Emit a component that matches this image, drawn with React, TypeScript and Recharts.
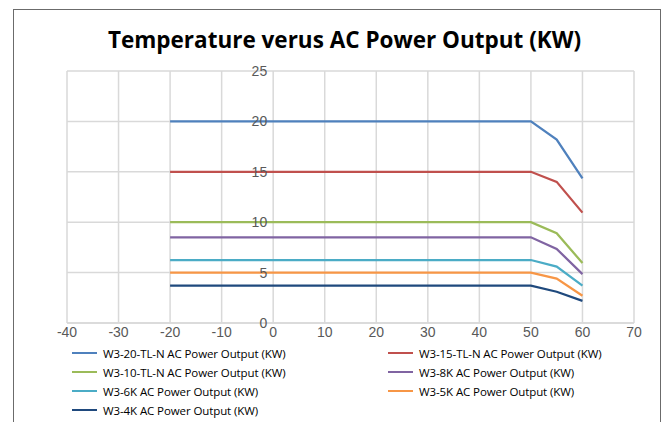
import React from 'react';
import { LineChart, Line, XAxis, YAxis, CartesianGrid, ReferenceDot } from 'recharts';

// temperature points (°C)
const temps = [-20, 50, 55, 60];

// AC power output (KW) per model at each temperature
const w20 = [20, 20, 18.2, 14.35];
const w15 = [15, 15, 14.0, 10.95];
const w10 = [10, 10, 8.9, 5.95];
const w8 = [8.5, 8.5, 7.35, 4.85];
const w6 = [6.25, 6.25, 5.6, 3.7];
const w5 = [5, 5, 4.4, 2.7];
const w4 = [3.7, 3.7, 3.1, 2.2];

const xTicks = [-40, -30, -20, -10, 0, 10, 20, 30, 40, 50, 60, 70];
const yTicks = [0, 5, 10, 15, 20, 25];

const series = [
  { key: 'w20', name: 'W3-20-TL-N AC Power Output (KW)', color: '#4F81BD', values: w20 },
  { key: 'w15', name: 'W3-15-TL-N AC Power Output (KW)', color: '#C0504D', values: w15 },
  { key: 'w10', name: 'W3-10-TL-N AC Power Output (KW)', color: '#9BBB59', values: w10 },
  { key: 'w8', name: 'W3-8K AC Power Output (KW)', color: '#8064A2', values: w8 },
  { key: 'w6', name: 'W3-6K AC Power Output (KW)', color: '#4BACC6', values: w6 },
  { key: 'w5', name: 'W3-5K AC Power Output (KW)', color: '#F79646', values: w5 },
  { key: 'w4', name: 'W3-4K AC Power Output (KW)', color: '#1F497D', values: w4 },
];

const data = temps.map((t, i) => {
  const row: any = { t };
  series.forEach((s) => (row[s.key] = s.values[i]));
  return row;
});

const tickStyle = { fill: '#595959', fontSize: 14, fontFamily: 'Liberation Sans, Arial, sans-serif' };

export default function App() {
  return (
    <div style={{ position: 'absolute', left: 0, top: 0, width: 667, height: 422, background: '#fff', overflow: 'hidden' }}>
      {/* chart frame */}
      <div
        style={{
          position: 'absolute',
          left: 13,
          top: 9,
          width: 648,
          height: 430,
          border: '1.5px solid #6b6b6b',
          boxSizing: 'border-box',
        }}
      />
      <div
        style={{
          position: 'absolute',
          left: 0,
          top: 24,
          width: 689,
          textAlign: 'center',
          fontFamily: 'Open Sans, sans-serif',
          fontWeight: 700,
          fontSize: 22.5,
          color: '#000',
          whiteSpace: 'nowrap',
        }}
      >
        Temperature verus AC Power Output (KW)
      </div>
      <div style={{ position: 'absolute', left: 0, top: 0 }}>
        <LineChart width={667} height={422} data={data} margin={{ top: 71, right: 33, bottom: 79, left: 67 }}>
          <CartesianGrid stroke="#d9d9d9" strokeWidth={1.5} horizontal vertical />
          <XAxis
            dataKey="t"
            type="number"
            domain={[-40, 70]}
            ticks={xTicks}
            axisLine={{ stroke: '#d9d9d9', strokeWidth: 1.5 }}
            tickLine={false}
            tickSize={0}
            tickMargin={4}
            tick={tickStyle}
            height={20}
            interval={0}
          />
          <YAxis type="number" domain={[0, 25]} ticks={yTicks} hide width={0} />
          {series.map((s) => (
            <Line
              key={s.key}
              dataKey={s.key}
              name={s.name}
              stroke={s.color}
              strokeWidth={2.25}
              dot={false}
              isAnimationActive={false}
            />
          ))}
          {yTicks.map((v) => (
            <ReferenceDot
              key={v}
              x={0}
              y={v}
              r={0}
              stroke="none"
              fill="none"
              ifOverflow="visible"
              label={{ value: String(v), position: 'left', offset: 6, ...tickStyle }}
            />
          ))}
        </LineChart>
      </div>
      {/* legend */}
      <div
        style={{
          position: 'absolute',
          left: 72,
          top: 345,
          width: 570,
          display: 'grid',
          gridTemplateColumns: '316px 254px',
          rowGap: 3,
          fontFamily: 'Open Sans, sans-serif',
          fontSize: 11.5,
          letterSpacing: -0.1,
          color: '#000',
        }}
      >
        {series.map((s) => (
          <div key={s.key} style={{ display: 'flex', alignItems: 'center', height: 16, whiteSpace: 'nowrap' }}>
            <span style={{ display: 'inline-block', width: 25, height: 2.5, background: s.color, marginRight: 6 }} />
            <span>{s.name}</span>
          </div>
        ))}
      </div>
    </div>
  );
}
